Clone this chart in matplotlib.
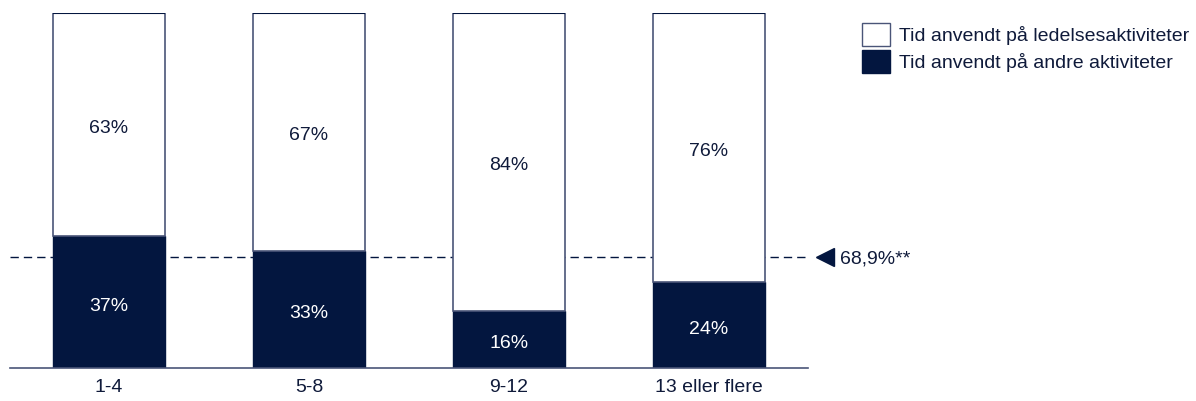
import matplotlib
matplotlib.use("Agg")
import matplotlib.pyplot as plt
from matplotlib.patches import Patch
import numpy as np

plt.rcParams['font.family'] = ['Liberation Sans', 'DejaVu Sans']

### data ###
categories = ["1-4", "5-8", "9-12", "13 eller flere"]
andre = [37, 33, 16, 24]          # Tid anvendt på andre aktiviteter
ledelse = [63, 67, 84, 76]        # Tid anvendt på ledelsesaktiviteter
avg_ledelse = 68.9                # gennemsnit (**)

navy = "#03163F"
edge = "#4A5578"
txt = "#0F1A3A"
fs = 14

fig = plt.figure(figsize=(11.96, 4.01), dpi=100)
ax = fig.add_axes((10 / 1196, 1 - 367.5 / 401, 798 / 1196, 354.5 / 401))

x = np.arange(len(categories))
ax.bar(x, andre, width=0.56, color=navy, edgecolor=navy, linewidth=1, zorder=2)
ax.bar(x, ledelse, bottom=andre, width=0.56, color="white", edgecolor=edge, linewidth=1.2, zorder=2)
# dark top edge of the bars
tops = [a + l for a, l in zip(andre, ledelse)]
ax.hlines(tops, x - 0.28, x + 0.28, color=navy, linewidth=1.5, zorder=3)

for i in range(len(categories)):
    ax.annotate(f"{andre[i]}%", (x[i], andre[i] / 2), xytext=(0, -1.5), textcoords="offset points",
                ha="center", va="center_baseline", color="white", fontsize=fs, zorder=3)
    ax.annotate(f"{ledelse[i]}%", (x[i], andre[i] + ledelse[i] / 2), xytext=(0, -1.5),
                textcoords="offset points", ha="center", va="center_baseline",
                color=txt, fontsize=fs, zorder=3)

# average line
line_y = 100 - avg_ledelse
ax.axhline(line_y, color=navy, linestyle=(0, (6, 3.6)), linewidth=1, zorder=1)
ax.plot([3.58], [line_y], marker="<", markersize=13, color=navy, clip_on=False)
ax.text(3.655, line_y, "68,9%**", ha="left", va="center_baseline", color=txt, fontsize=fs)

ax.set_xlim(-0.495, 3.495)
ax.set_ylim(0, 100)
ax.set_yticks([])
ax.set_xticks(x)
ax.set_xticklabels(categories, fontsize=fs, color=txt)
ax.tick_params(axis="x", length=0, pad=8)
for s in ["top", "right", "left"]:
    ax.spines[s].set_visible(False)
ax.spines["bottom"].set_color(edge)
ax.spines["bottom"].set_linewidth(1.2)

handles = [Patch(facecolor="white", edgecolor=edge, label="Tid anvendt på ledelsesaktiviteter"),
           Patch(facecolor=navy, edgecolor=navy, label="Tid anvendt på andre aktiviteter")]
leg = fig.legend(handles=handles, loc="upper left", bbox_to_anchor=(862 / 1196, 1 - 23 / 401),
                 frameon=False, fontsize=fs, handlelength=1.43, handleheight=1.43,
                 handletextpad=0.45, labelspacing=0.2, borderaxespad=0, borderpad=0)
for t in leg.get_texts():
    t.set_color(txt)

fig.savefig("out.png", dpi=100)
